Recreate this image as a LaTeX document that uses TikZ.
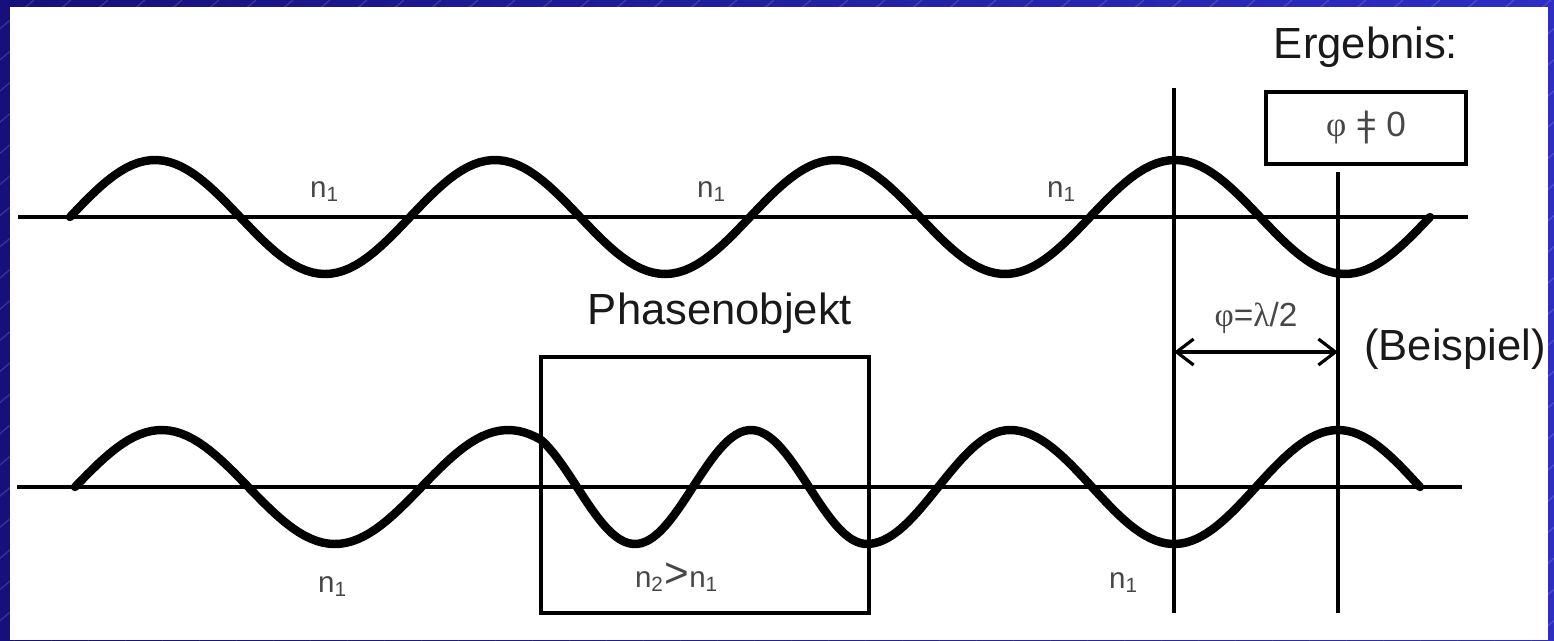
\documentclass[tikz,border=0pt]{standalone}
\usepackage{fontspec}
\setmainfont{Liberation Sans}
\newfontfamily\grk{Liberation Serif}
\usepackage{tikz}
\usetikzlibrary{positioning,arrows.meta}

\definecolor{bgleft}{HTML}{16107C}
\definecolor{bgright}{HTML}{2E2EC4}
\newcommand{\vneq}{\ooalign{=\cr\hidewidth|\hidewidth\cr}}

\begin{document}
\begin{tikzpicture}[
  x=0.1mm, y=-0.1mm,
  big/.style={inner sep=0pt, font=\fontsize{12.4}{14}\selectfont, text=black!90},
  lbl/.style={inner sep=0pt, font=\fontsize{8.4}{10}\selectfont, text=black!72},
  box/.style={draw, line width=1.2pt, inner sep=0pt},
  axis/.style={line width=1pt},
  wave/.style={line width=2.4pt, line cap=round, line join=round},
  stripe/.style={draw=white, opacity=0.14, line width=0.4pt},
  arr/.style={<->, line width=0.9pt, >={Straight Barb[length=1.7mm, width=2.6mm]}}
]
  \useasboundingbox (0,0) rectangle (1554,640);
  % frame
  \shade[left color=bgleft, right color=bgright] (0,0) rectangle (1554,640);
  \begin{scope}
    \clip (0,0) rectangle (1554,640);
    \foreach \s in {-800,-763,...,1554}
      \draw[stripe] (\s,640) -- ++(760,-640);
  \end{scope}
  \fill[white] (10,7) rectangle (1548,640);

  % axes and waves
  \draw[axis] (18,217) -- (1468,217);
  \draw[axis] (17,487) -- (1462,487);
  \draw[wave] plot[domain=70:1430, samples=220] (\x,{217-57*sin(1.05882*(\x-70))});
  \draw[wave] plot[domain=75:541, samples=80] (\x,{487-57*sin(1.03896*(\x-75))})
    -- plot[domain=541:869, samples=80] (\x,{487-57*sin(360*(1.345+(\x-541)/232))})
    -- plot[domain=869:1010, samples=30] (\x,{487-57*sin(360*(2.7587+(\x-869)/287))})
    -- plot[domain=1010:1420, samples=80] (\x,{487-57*sin(360*(3.25+(\x-1010)/328))});

  % phase object
  \node[box, minimum width=3.28cm, minimum height=2.56cm] (obj) at (705,485) {};
  \node[big, above=0.21cm of obj, xshift=0.15cm] (objlbl) {Phasenobjekt};

  % indices
  \node[lbl, anchor=base] (n1a) at (325,197) {n\textsubscript{1}};
  \node[lbl, anchor=base] (n1b) at (712,197) {n\textsubscript{1}};
  \node[lbl, anchor=base] (n1c) at (1062,197) {n\textsubscript{1}};
  \node[lbl, anchor=base] (n1d) at (333,592) {n\textsubscript{1}};
  \node[lbl, anchor=base] (n2) at (677,587) {n\textsubscript{2}{\fontsize{12}{12}\selectfont >}n\textsubscript{1}};
  \node[lbl, anchor=base] (n1e) at (1124,588) {n\textsubscript{1}};

  % result
  \node[big, anchor=base] (erg) at (1366,58) {Ergebnis:};
  \node[box, minimum width=2cm, minimum height=0.72cm, below=0.22cm of erg,
    font=\fontsize{10}{12}\selectfont, text=black!72] (res) {{\grk φ} \vneq{} 0};
  \node[big, anchor=base] (bsp) at (1455,360) {(Beispiel)};

  % marker lines
  \coordinate (vlt) at (1174,88);
  \coordinate (vlb) at (1174,613);
  \coordinate (vrt) at (1338,172);
  \coordinate (vrb) at (1338,613);
  \coordinate (al) at (1174,352);
  \coordinate (ar) at (1338,352);
  \draw[axis] (vlt) -- (vlb);
  \draw[axis] (vrt) -- (vrb);
  \draw[arr] (al) -- node[lbl, above=4.8pt, font=\fontsize{9.5}{11}\selectfont] (phase) {{\grk φ}={\grk λ}/2} (ar);
\end{tikzpicture}
\end{document}
